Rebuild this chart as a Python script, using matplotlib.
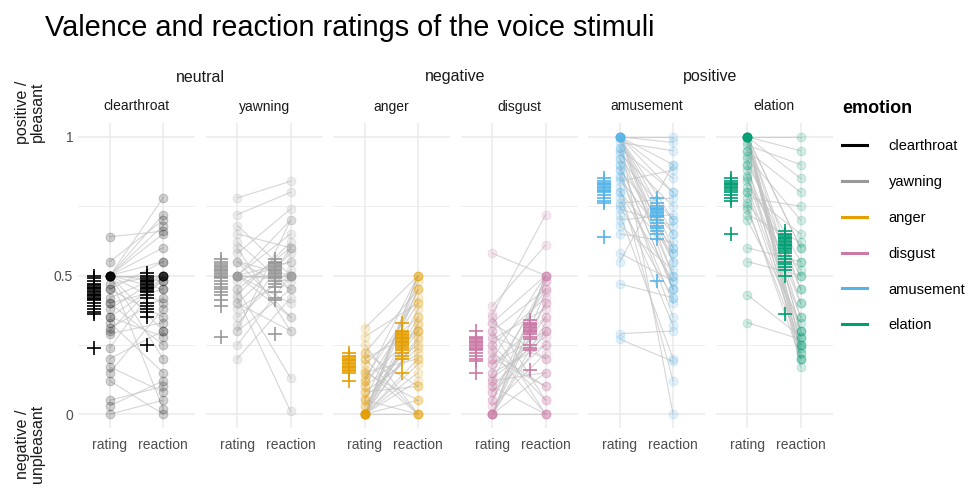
import matplotlib
matplotlib.use("Agg")
import matplotlib.pyplot as plt
from matplotlib.lines import Line2D

plt.rcParams['font.family'] = ['Liberation Sans', 'DejaVu Sans']

# emotions / groups
emotions = ['clearthroat', 'yawning', 'anger', 'disgust', 'amusement', 'elation']
groups = ['neutral', 'negative', 'positive']
colors = ['#000000', '#999999', '#E69F00', '#CC79A7', '#56B4E9', '#009E73']
categories = ['rating', 'reaction']

# per participant values (rating -> reaction)
ct_rating = [0.5, 0.5, 0.5, 0.5, 0.5, 0.5, 0.5, 0.5, 0.5, 0.5, 0.5, 0.5, 0.64, 0.55, 0.47, 0.45,
             0.42, 0.4, 0.38, 0.35, 0.33, 0.31, 0.3, 0.29, 0.24, 0.2, 0.17, 0.15, 0.12, 0.05, 0.03, 0.0,
             0.5, 0.5, 0.45, 0.4, 0.35, 0.5]
ct_reaction = [0.5, 0.5, 0.78, 0.72, 0.68, 0.65, 0.6, 0.55, 0.45, 0.4, 0.3, 0.02, 0.66, 0.7, 0.5, 0.35,
               0.5, 0.25, 0.5, 0.48, 0.15, 0.42, 0.5, 0.33, 0.5, 0.3, 0.08, 0.38, 0.0, 0.1, 0.12, 0.05,
               0.5, 0.48, 0.55, 0.45, 0.28, 0.2]

yw_rating = [0.78, 0.72, 0.65, 0.6, 0.58, 0.55, 0.55, 0.5, 0.5, 0.5, 0.5, 0.5, 0.5, 0.5, 0.5,
             0.48, 0.45, 0.43, 0.42, 0.4, 0.38, 0.35, 0.32, 0.3, 0.25, 0.2,
             0.5, 0.55, 0.45, 0.62, 0.4, 0.5, 0.3, 0.68]
yw_reaction = [0.84, 0.8, 0.6, 0.3, 0.74, 0.5, 0.45, 0.5, 0.5, 0.5, 0.5, 0.65, 0.4, 0.7, 0.35,
               0.55, 0.13, 0.62, 0.01, 0.58, 0.5, 0.52, 0.6, 0.45, 0.5, 0.42,
               0.48, 0.35, 0.6, 0.45, 0.3, 0.55, 0.7, 0.5]

an_rating = [0.31, 0.28, 0.22, 0.2, 0.18, 0.15, 0.12, 0.1, 0.08, 0.05, 0.03, 0.0, 0.0, 0.0, 0.0,
             0.0, 0.0, 0.0, 0.0, 0.0, 0.25, 0.16, 0.13, 0.06, 0.0, 0.0,
             0.0, 0.0, 0.0, 0.0, 0.05, 0.1, 0.12, 0.2, 0.22, 0.15, 0.08, 0.03]
an_reaction = [0.5, 0.4, 0.45, 0.3, 0.35, 0.2, 0.5, 0.25, 0.1, 0.0, 0.3, 0.5, 0.45, 0.38, 0.33,
               0.27, 0.2, 0.15, 0.05, 0.0, 0.0, 0.0, 0.42, 0.24, 0.12, 0.48,
               0.5, 0.35, 0.28, 0.18, 0.45, 0.4, 0.3, 0.0, 0.1, 0.05, 0.22, 0.32]

di_rating = [0.58, 0.39, 0.36, 0.33, 0.3, 0.28, 0.25, 0.22, 0.2, 0.18, 0.15, 0.12, 0.1, 0.08, 0.05,
             0.03, 0.0, 0.0, 0.0, 0.0, 0.0, 0.35, 0.27, 0.23, 0.13, 0.0,
             0.0, 0.0, 0.05, 0.1, 0.15, 0.2, 0.25, 0.3, 0.33, 0.08, 0.18, 0.12]
di_reaction = [0.5, 0.61, 0.72, 0.5, 0.45, 0.2, 0.42, 0.1, 0.5, 0.3, 0.25, 0.48, 0.0, 0.35, 0.4,
               0.22, 0.5, 0.44, 0.3, 0.15, 0.0, 0.05, 0.38, 0.0, 0.28, 0.33,
               0.5, 0.4, 0.48, 0.3, 0.45, 0.1, 0.05, 0.0, 0.2, 0.25, 0.35, 0.15]

am_rating = [1.0, 1.0, 1.0, 1.0, 1.0, 1.0, 1.0, 1.0, 0.98, 0.96, 0.94, 0.92, 0.9, 0.88, 0.86,
             0.84, 0.82, 0.8, 0.78, 0.76, 0.74, 0.72, 0.7, 0.68, 0.65, 0.58, 0.55, 0.47, 0.29, 0.27,
             1.0, 1.0, 1.0, 1.0, 0.95, 0.9, 0.85, 0.8, 0.75, 0.92, 0.88, 0.96]
am_reaction = [1.0, 0.98, 0.9, 0.85, 0.7, 0.6, 0.5, 0.0, 0.95, 0.8, 0.75, 0.55, 0.45, 0.65, 0.4,
               0.88, 0.12, 0.58, 0.32, 0.78, 0.68, 0.2, 0.72, 0.52, 0.62, 0.48, 0.9, 0.42, 0.3, 0.19,
               0.55, 0.45, 0.8, 0.65, 0.5, 0.45, 0.6, 0.48, 0.42, 0.7, 0.35, 0.58]

el_rating = [1.0, 1.0, 1.0, 1.0, 1.0, 1.0, 1.0, 1.0, 1.0, 1.0, 0.97, 0.95, 0.93, 0.9, 0.88,
             0.86, 0.84, 0.82, 0.8, 0.78, 0.76, 0.74, 0.72, 0.6, 0.55, 0.43, 0.33,
             1.0, 1.0, 1.0, 1.0, 0.98, 0.95, 0.9, 0.85, 0.8, 0.92, 0.75, 0.7]
el_reaction = [1.0, 0.95, 0.85, 0.6, 0.45, 0.3, 0.25, 0.22, 0.2, 0.17, 0.9, 0.8, 0.7, 0.55, 0.4,
               0.35, 0.5, 0.28, 0.65, 0.75, 0.52, 0.24, 0.62, 0.55, 0.5, 0.28, 0.27,
               0.3, 0.25, 0.4, 0.6, 0.22, 0.35, 0.2, 0.3, 0.25, 0.45, 0.2, 0.33]

# per stimulus means ("+")
ct_stim_rating = [0.5, 0.49, 0.48, 0.47, 0.465, 0.46, 0.455, 0.45, 0.445, 0.44, 0.435, 0.43, 0.425,
                  0.42, 0.415, 0.41, 0.4, 0.39, 0.38, 0.37, 0.36, 0.24]
ct_stim_reaction = [0.51, 0.5, 0.49, 0.485, 0.48, 0.475, 0.47, 0.465, 0.46, 0.455, 0.45, 0.445,
                    0.44, 0.43, 0.42, 0.4, 0.39, 0.38, 0.37, 0.35, 0.25]
yw_stim_rating = [0.56, 0.55, 0.54, 0.535, 0.53, 0.525, 0.52, 0.515, 0.51, 0.505, 0.5, 0.495, 0.49,
                  0.48, 0.47, 0.46, 0.45, 0.44, 0.43, 0.41, 0.39, 0.28]
yw_stim_reaction = [0.56, 0.55, 0.545, 0.54, 0.535, 0.53, 0.525, 0.52, 0.515, 0.51, 0.505, 0.5,
                    0.495, 0.49, 0.48, 0.47, 0.46, 0.44, 0.42, 0.41, 0.29]
an_stim_rating = [0.22, 0.21, 0.205, 0.2, 0.195, 0.19, 0.185, 0.18, 0.175, 0.17, 0.165, 0.16,
                  0.155, 0.15, 0.12]
an_stim_reaction = [0.33, 0.3, 0.295, 0.29, 0.285, 0.28, 0.275, 0.27, 0.265, 0.26, 0.255, 0.25,
                    0.245, 0.24, 0.23, 0.22, 0.21, 0.2, 0.15]
di_stim_rating = [0.3, 0.28, 0.275, 0.27, 0.265, 0.26, 0.255, 0.25, 0.245, 0.24, 0.235, 0.23,
                  0.22, 0.21, 0.2, 0.19, 0.15]
di_stim_reaction = [0.34, 0.33, 0.325, 0.32, 0.315, 0.31, 0.305, 0.3, 0.295, 0.29, 0.28, 0.27,
                    0.25, 0.24, 0.23, 0.16]
am_stim_rating = [0.85, 0.84, 0.835, 0.83, 0.825, 0.82, 0.815, 0.81, 0.805, 0.8, 0.79, 0.78,
                  0.77, 0.76, 0.64]
am_stim_reaction = [0.78, 0.76, 0.75, 0.745, 0.74, 0.735, 0.73, 0.725, 0.72, 0.715, 0.71, 0.7,
                    0.69, 0.68, 0.67, 0.66, 0.65, 0.63, 0.48]
el_stim_rating = [0.85, 0.84, 0.835, 0.83, 0.825, 0.82, 0.815, 0.81, 0.8, 0.79, 0.78, 0.77, 0.65]
el_stim_reaction = [0.66, 0.65, 0.645, 0.64, 0.635, 0.63, 0.625, 0.62, 0.615, 0.61, 0.605, 0.6,
                    0.595, 0.59, 0.58, 0.57, 0.56, 0.55, 0.54, 0.53, 0.52, 0.5, 0.36]

ratings = [ct_rating, yw_rating, an_rating, di_rating, am_rating, el_rating]
reactions = [ct_reaction, yw_reaction, an_reaction, di_reaction, am_reaction, el_reaction]
stim_ratings = [ct_stim_rating, yw_stim_rating, an_stim_rating, di_stim_rating, am_stim_rating, el_stim_rating]
stim_reactions = [ct_stim_reaction, yw_stim_reaction, an_stim_reaction, di_stim_reaction,
                  am_stim_reaction, el_stim_reaction]

W, H = 972, 488
fig = plt.figure(figsize=(W / 100, H / 100), dpi=100)

grid_col = '#ebebeb'
txt_col = '#4d4d4d'
left0, pw, gap = 78, 117, 10.5
top_px, bot_px = 123, 428

axes = []
for i, emo in enumerate(emotions):
    l = left0 + i * (pw + gap)
    ax = fig.add_axes([l / W, (H - bot_px) / H, pw / W, (bot_px - top_px) / H])
    axes.append(ax)
    ax.set_xlim(0.4, 2.6)
    ax.set_ylim(-0.05, 1.05)
    ax.set_yticks([0, 0.5, 1])
    ax.set_yticks([0.25, 0.75], minor=True)
    ax.set_xticks([1, 2])
    ax.set_xticklabels(categories)
    ax.grid(True, which='major', color=grid_col, lw=1.1)
    ax.grid(True, which='minor', axis='y', color=grid_col, lw=0.6)
    ax.set_axisbelow(True)
    for s in ax.spines.values():
        s.set_visible(False)
    ax.tick_params(which='both', length=0, labelsize=10, labelcolor=txt_col)
    ax.tick_params(axis='x', pad=7)
    if i == 0:
        ax.set_yticklabels(['0', '0.5', '1'])
    else:
        ax.set_yticklabels([])
    ax.set_title(emo, fontsize=10, color='#1a1a1a', pad=9)

    c = colors[i]
    r, re = ratings[i], reactions[i]
    for a, b in zip(r, re):
        ax.plot([1, 2], [a, b], color='#c4c4c4', lw=0.8, alpha=0.7, zorder=1)
    ax.scatter([1] * len(r), r, s=40, color=c, alpha=0.18, edgecolors=c, linewidths=0.7, zorder=2)
    ax.scatter([2] * len(re), re, s=40, color=c, alpha=0.18, edgecolors=c, linewidths=0.7, zorder=2)
    sr, sre = stim_ratings[i], stim_reactions[i]
    ax.plot([0.7] * len(sr), sr, ls='none', marker='+', ms=10, mew=1.2, color=c, zorder=3)
    ax.plot([1.7] * len(sre), sre, ls='none', marker='+', ms=10, mew=1.2, color=c, zorder=3)

# group strip labels
for g, name in enumerate(groups):
    a1 = axes[2 * g].get_position()
    a2 = axes[2 * g + 1].get_position()
    fig.text((a1.x0 + a2.x1) / 2, 1 - 77 / H, name, ha='center', va='center',
             fontsize=11.5, color='#1a1a1a')

fig.text(45 / W, 1 - 28 / H, 'Valence and reaction ratings of the voice stimuli',
         ha='left', va='center', fontsize=20.8, color='#000000')

fig.text(30 / W, 1 - 112 / H, 'positive /\npleasant', rotation=90, ha='center', va='center',
         fontsize=11.5, color='#1a1a1a', linespacing=0.95)
fig.text(30 / W, 1 - 405 / H, 'negative /\nunpleasant', rotation=90, ha='center', va='top',
         fontsize=11.5, color='#1a1a1a', linespacing=0.95)

handles = [Line2D([0], [0], color=c, lw=2.2) for c in colors]
leg = fig.legend(handles, emotions, loc='upper left', bbox_to_anchor=(836 / W, 1 - 94 / H),
                 frameon=False, fontsize=10.5, title='emotion', handlelength=1.7,
                 labelspacing=1.5, handletextpad=1.5, borderaxespad=0)
leg.get_title().set_fontsize(13)
leg.get_title().set_fontweight('bold')
leg._legend_box.align = 'left'
leg._legend_box.sep = 16

fig.savefig('out.png', dpi=100)
